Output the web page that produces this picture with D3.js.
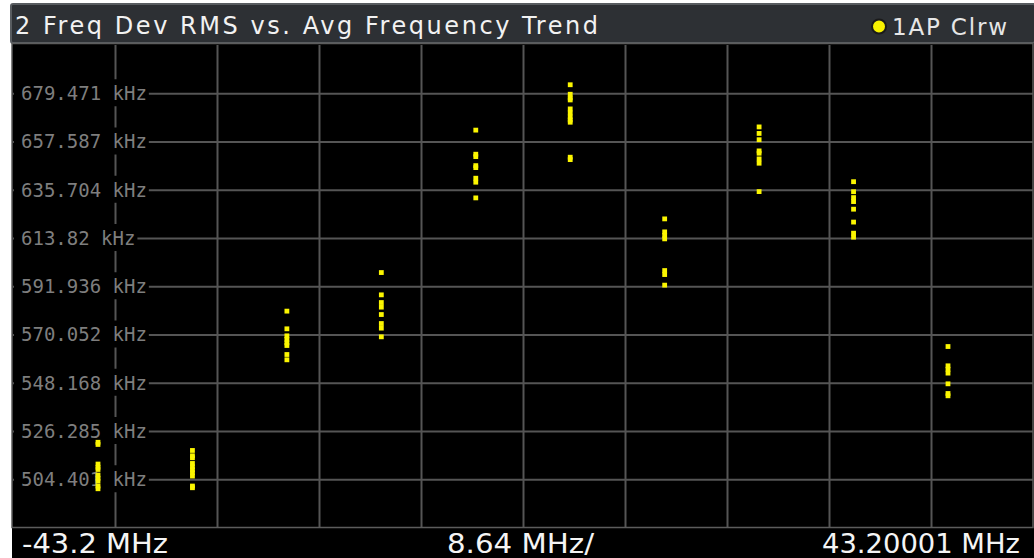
<!DOCTYPE html>
<html>
<head>
<meta charset="utf-8">
<script src="https://cdn.jsdelivr.net/npm/d3@7"></script>
<style>
  html, body { margin: 0; padding: 0; background: #ffffff; overflow: hidden; }
  svg { display: block; }
</style>
</head>
<body>
<svg id="chart" width="1034" height="558"></svg>
<script>
// Sweep centre offsets (MHz) where each cluster of results was measured
const freqsMHz = [-36, -28, -20, -12, -4, 4, 12, 20, 28, 36];

// Freq Dev RMS results (kHz) collected at each offset
const devM36 = [521.17, 520.18, 511.29, 509.84, 508.84, 506.30, 504.85, 503.58, 501.32, 500.09];
const devM28 = [517.46, 515.05, 514.15, 511.56, 510.07, 508.71, 507.35, 505.85, 501.32, 500.55];
const devM20 = [580.65, 572.63, 569.45, 567.87, 566.28, 565.06, 560.98, 558.57];
const devM12 = [598.15, 588.04, 584.55, 582.46, 579.11, 575.03, 572.94, 569.00];
const devM4  = [662.75, 651.82, 650.73, 646.65, 645.75, 640.94, 639.13, 632.01];
const devP4  = [683.33, 679.02, 677.35, 676.44, 672.36, 670.55, 668.73, 667.37, 666.33, 650.46, 649.37];
const devP12 = [622.49, 616.60, 615.01, 613.43, 599.06, 597.24, 592.44];
const devP20 = [664.20, 661.25, 658.40, 653.32, 652.28, 649.69, 647.74, 634.87];
const devP28 = [639.36, 634.82, 632.15, 630.34, 626.89, 621.04, 616.01, 614.20];
const devP36 = [564.60, 555.85, 554.27, 552.54, 547.69, 543.30, 542.25];
const devByOffset = [devM36, devM28, devM20, devM12, devM4, devP4, devP12, devP20, devP28, devP36];

// Axis settings
const yTicksKHz = [504.401, 526.285, 548.168, 570.052, 591.936, 613.82, 635.704, 657.587, 679.471];
const yTickLabels = ["504.401 kHz", "526.285 kHz", "548.168 kHz", "570.052 kHz", "591.936 kHz",
                     "613.82 kHz", "635.704 kHz", "657.587 kHz", "679.471 kHz"];
const yDomainKHz = [482.517, 701.357];
const xDomainMHz = [-43.2, 43.20001];
const xStepMHz = 8.64;
const xFooterLabels = ["-43.2 MHz", "8.64 MHz/", "43.20001 MHz"];

const titleText = "2 Freq Dev RMS vs. Avg Frequency Trend";
const traceLabel = "1AP Clrw";

const svg = d3.select("#chart");

const plot = { left: 13, right: 1033, top: 45, bottom: 527.5 };

const x = d3.scaleLinear().domain(xDomainMHz).range([plot.left, plot.right]);
const y = d3.scaleLinear().domain(yDomainKHz).range([plot.bottom, plot.top]);

// Title bar
svg.append("rect")
  .attr("x", 11).attr("y", 4).attr("width", 1024).attr("height", 39)
  .attr("rx", 2)
  .attr("fill", "#2d3034").attr("stroke", "#585c60").attr("stroke-width", 2);

svg.append("text")
  .attr("x", 15).attr("y", 34)
  .attr("font-family", "DejaVu Sans, Verdana, sans-serif")
  .attr("font-size", 24)
  .attr("fill", "#f2f2f2")
  .attr("textLength", 583).attr("lengthAdjust", "spacing")
  .text(titleText);

// Trace legend
svg.append("circle")
  .attr("cx", 879).attr("cy", 26.5).attr("r", 7)
  .attr("fill", "#f7f100").attr("stroke", "#1a1a1a").attr("stroke-width", 2);
svg.append("text")
  .attr("x", 892).attr("y", 35)
  .attr("font-family", "DejaVu Sans, Verdana, sans-serif")
  .attr("font-size", 23)
  .attr("fill", "#e6e6e6")
  .attr("textLength", 115).attr("lengthAdjust", "spacing")
  .text(traceLabel);

// Plot and footer background
svg.append("rect")
  .attr("x", 12).attr("y", 43).attr("width", 1022).attr("height", 515)
  .attr("fill", "#000000");

// Vertical grid
const xGridValues = d3.range(1, 10).map(i => xDomainMHz[0] + i * xStepMHz);
svg.append("g")
  .attr("transform", `translate(0,${plot.bottom})`)
  .call(d3.axisBottom(x).tickValues(xGridValues).tickSize(-(plot.bottom - plot.top)).tickFormat(""))
  .call(g => g.select(".domain").remove())
  .call(g => g.selectAll(".tick line").attr("stroke", "#555555").attr("stroke-width", 2));

// Horizontal grid
svg.append("g")
  .attr("transform", `translate(${plot.left},0)`)
  .call(d3.axisLeft(y).tickValues(yTicksKHz).tickSize(-(plot.right - plot.left)).tickFormat(""))
  .call(g => g.select(".domain").remove())
  .call(g => g.selectAll(".tick line").attr("stroke", "#555555").attr("stroke-width", 2));

// Y tick labels on black boxes
const labelG = svg.append("g");
yTicksKHz.forEach((v, i) => {
  const t = labelG.append("text")
    .attr("x", 21).attr("y", y(v))
    .attr("dy", "0.36em")
    .attr("font-family", "DejaVu Sans Mono, monospace")
    .attr("font-size", 19)
    .attr("fill", "#7e7e7e")
    .text(yTickLabels[i]);
  const w = t.node().getComputedTextLength();
  labelG.insert("rect", "text")
    .attr("x", plot.left + 1).attr("y", y(v) - 14)
    .attr("width", 21 + w + 2 - plot.left - 1).attr("height", 27)
    .attr("fill", "#000000");
});

// Measurement points
const points = [];
freqsMHz.forEach((f, i) => devByOffset[i].forEach(v => points.push({ f, v })));
const sz = 4.8;
svg.append("g")
  .selectAll("rect")
  .data(points)
  .join("rect")
  .attr("x", d => x(d.f) - sz / 2)
  .attr("y", d => y(d.v) - sz / 2)
  .attr("width", sz).attr("height", sz)
  .attr("fill", "#fbf500");

// Plot frame
svg.append("rect")
  .attr("x", 12).attr("y", 43.5).attr("width", 1021).attr("height", plot.bottom - 43.5)
  .attr("fill", "none").attr("stroke", "#5c5c5c").attr("stroke-width", 1.5);

// Footer frequency labels
const footer = svg.append("g")
  .attr("font-family", "DejaVu Sans Condensed, DejaVu Sans, sans-serif")
  .attr("font-size", 27)
  .attr("fill", "#f4f4f4");
footer.append("text").attr("x", 22).attr("y", 553)
  .attr("textLength", 146).attr("lengthAdjust", "spacingAndGlyphs")
  .text(xFooterLabels[0]);
footer.append("text").attr("x", 447).attr("y", 553)
  .attr("textLength", 147).attr("lengthAdjust", "spacingAndGlyphs")
  .text(xFooterLabels[1]);
footer.append("text").attr("x", 822).attr("y", 553)
  .attr("textLength", 198).attr("lengthAdjust", "spacingAndGlyphs")
  .text(xFooterLabels[2]);
</script>
</body>
</html>
